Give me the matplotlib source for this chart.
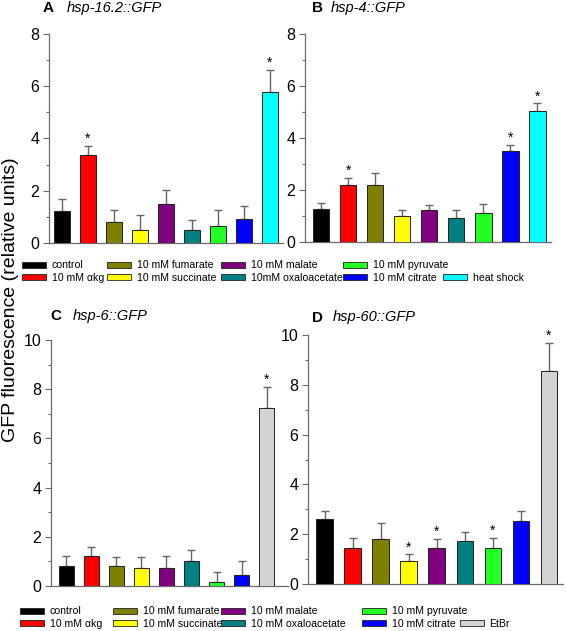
import matplotlib
matplotlib.use("Agg")
import matplotlib.pyplot as plt
from matplotlib.patches import Patch
from matplotlib.ticker import MultipleLocator

plt.rcParams['font.family'] = ['Liberation Sans', 'DejaVu Sans']

# ---------------- data ----------------
labels_top = ["control", "10 mM \u03b1kg", "10 mM fumarate", "10 mM succinate", "10 mM malate",
              "10mM oxaloacetate", "10 mM pyruvate", "10 mM citrate", "heat shock"]
labels_bot = ["control", "10 mM \u03b1kg", "10 mM fumarate", "10 mM succinate", "10 mM malate",
              "10 mM oxaloacetate", "10 mM pyruvate", "10 mM citrate", "EtBr"]
colors_top = ["#000000", "#ff0000", "#808000", "#ffff00", "#800080",
              "#008080", "#22ff22", "#0000ff", "#00ffff"]
colors_bot = ["#000000", "#ff0000", "#808000", "#ffff00", "#800080",
              "#008080", "#22ff22", "#0000ff", "#d3d3d3"]

a_mean = [1.23, 3.37, 0.79, 0.51, 1.50, 0.51, 0.65, 0.93, 5.78]
a_err = [0.46, 0.35, 0.46, 0.55, 0.52, 0.36, 0.60, 0.47, 0.85]
a_sig = [False, True, False, False, False, False, False, False, True]

b_mean = [1.26, 2.18, 2.18, 1.00, 1.24, 0.94, 1.12, 3.49, 5.05]
b_err = [0.24, 0.28, 0.49, 0.23, 0.17, 0.29, 0.34, 0.24, 0.28]
b_sig = [False, True, False, False, False, False, False, True, True]

c_mean = [0.83, 1.22, 0.83, 0.73, 0.73, 1.03, 0.15, 0.43, 7.22]
c_err = [0.40, 0.35, 0.36, 0.46, 0.49, 0.43, 0.43, 0.59, 0.88]
c_sig = [False, False, False, False, False, False, False, False, True]

d_mean = [2.63, 1.43, 1.82, 0.92, 1.43, 1.73, 1.43, 2.53, 8.54]
d_err = [0.29, 0.41, 0.62, 0.27, 0.37, 0.35, 0.43, 0.42, 1.14]
d_sig = [False, False, False, True, True, False, True, False, True]

panels = [
    ("A", "hsp-16.2::GFP", a_mean, a_err, a_sig, colors_top, 8),
    ("B", "hsp-4::GFP", b_mean, b_err, b_sig, colors_top, 8),
    ("C", "hsp-6::GFP", c_mean, c_err, c_sig, colors_bot, 10),
    ("D", "hsp-60::GFP", d_mean, d_err, d_sig, colors_bot, 10),
]

# ---------------- layout ----------------
W, H = 567, 631
fig = plt.figure(figsize=(W / 100, H / 100), dpi=100)

def px(x0, y0, x1, y1):
    return [x0 / W, 1 - y1 / H, (x1 - x0) / W, (y1 - y0) / H]

rects = [px(49, 34, 283, 243), px(305, 34, 551, 242), px(51, 340, 288, 586), px(308, 335, 563, 584)]
xlims = [(-0.5, 8.5), (-0.6, 8.5), (-0.6, 8.85), (-0.6, 8.5)]
title_pos = [(43, 67, 8), (312, 331, 8), (50, 73, 316), (312, 333, 317.5)]

spine_col = "#6a6a6a"
for (letter, name, mean, err, sig, cols, ymax), r, xl, tp in zip(panels, rects, xlims, title_pos):
    ax = fig.add_axes(r)
    x = list(range(len(mean)))
    ax.bar(x, mean, width=0.6, color=cols, edgecolor="#222222", linewidth=0.7, zorder=3)
    ax.errorbar(x, mean, yerr=[[0] * len(err), err], fmt="none", ecolor="#666666",
                elinewidth=1.0, capsize=3, capthick=1.0, zorder=2)
    for i, s in enumerate(sig):
        if s:
            ax.annotate("*", xy=(i, mean[i] + err[i]), xytext=(0, 0), textcoords="offset points",
                        ha="center", va="bottom", fontsize=10)
    ax.set_xlim(*xl)
    ax.set_ylim(0, ymax)
    ax.yaxis.set_major_locator(MultipleLocator(2))
    ax.yaxis.set_minor_locator(MultipleLocator(1))
    ax.set_xticks([])
    for s in ("top", "right"):
        ax.spines[s].set_visible(False)
    for s in ("left", "bottom"):
        ax.spines[s].set_color(spine_col)
        ax.spines[s].set_linewidth(0.9)
    ax.tick_params(axis="y", which="major", direction="out", length=4, width=0.8,
                   color=spine_col, labelsize=11.5, pad=3)
    ax.tick_params(axis="y", which="minor", direction="out", length=2, width=0.8, color=spine_col)
    fig.text(tp[0] / W, 1 - tp[2] / H, letter, fontsize=11, fontweight="bold", ha="left", va="center")
    fig.text(tp[1] / W, 1 - tp[2] / H, name, fontsize=10.5, style="italic", ha="left", va="center")

fig.text(11 / W, 1 - 300 / H, "GFP fluorescence (relative units)", rotation=90,
         fontsize=14, ha="center", va="center")

# ---------------- legends ----------------
def column_legends(labels, colors, xs, ycenter):
    groups = [[0, 1], [2, 3], [4, 5], [6, 7], [None, 8]]
    for g, xp in zip(groups, xs):
        handles, labs = [], []
        for k in g:
            if k is None:
                handles.append(Patch(facecolor="none", edgecolor="none"))
                labs.append(" ")
            else:
                handles.append(Patch(facecolor=colors[k], edgecolor="#222222", linewidth=0.6))
                labs.append(labels[k])
        fig.legend(handles, labs, loc="center left", bbox_to_anchor=(xp / W, 1 - ycenter / H),
                   frameon=False, fontsize=7.6, handlelength=2.3, handleheight=0.45,
                   handletextpad=0.5, labelspacing=0.2, borderpad=0, borderaxespad=0)

column_legends(labels_top, colors_top, [22, 107, 221, 343, 443], 271.5)
column_legends(labels_bot, colors_bot, [20, 113, 221, 362, 460], 617.5)

fig.savefig("out.png", dpi=100)
